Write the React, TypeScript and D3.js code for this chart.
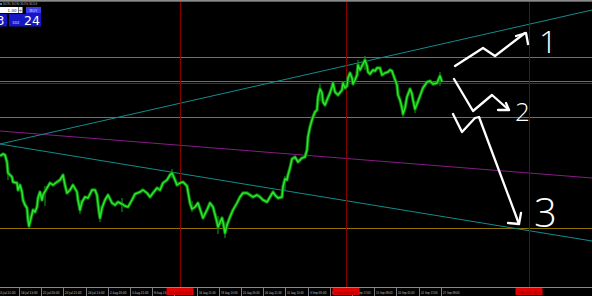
import React from "react";
import * as d3 from "d3";

const W = 592;
const H = 296;

// ---- price series (bar index, close) ----
const closeBars = [0,3,5,7,8,12,13,17,18,20,22,23,25,27,28,29,31,33,35,37,38,40,42,43,47,50,53,57,60,63,65,67,70,73,77,78,80,82,85,88,92,95,97,99,100,102,105,108,112,115,118,122,125,128,132,135,140,143,147,150,153,157,160,163,167,170,172,175,177,180,183,187,190,192,195,198,202,203,207,210,213,217,218,222,223,225,227,230,233,237,240,243,247,250,253,257,260,263,267,270,273,275,278,282,283,285,287,288,290,292,295,298,302,305,307,308,310,312,313,315,317,318,320,322,323,325,327,330,332,333,335,338,342,343,345,347,348,350,352,353,355,357,358,360,362,363,365,367,368,370,373,375,377,380,382,385,388,390,392,393,397,398,400,402,403,405,407,410,412,413,415,417,420,423,427,430,433,437,440,442];
const closePrices = [301.50,301.52,301.51,301.44,301.33,301.29,301.24,301.23,301.16,301.21,301.14,301.06,301.01,300.98,300.86,300.80,300.88,300.96,300.94,300.99,301.08,301.14,301.06,301.11,301.18,301.23,301.21,301.24,301.26,301.31,301.21,301.13,301.16,301.21,301.14,301.06,300.96,301.04,301.09,301.08,301.16,301.16,301.11,300.94,300.88,300.98,301.06,301.11,301.03,301.01,301.04,301.02,301.00,300.99,301.06,301.12,301.14,301.16,301.13,301.09,301.13,301.18,301.16,301.23,301.26,301.31,301.33,301.26,301.21,301.23,301.24,301.20,301.03,300.97,300.99,301.03,300.91,300.88,300.96,301.03,300.99,300.84,300.79,300.88,300.84,300.73,300.81,300.89,300.96,301.03,301.09,301.13,301.13,301.11,301.09,301.11,301.09,301.06,301.04,301.09,301.14,301.11,301.08,301.09,301.19,301.27,301.26,301.31,301.38,301.47,301.49,301.44,301.48,301.49,301.56,301.69,301.79,301.86,301.89,301.94,301.96,302.09,302.17,302.13,302.04,302.01,302.06,302.13,302.19,302.23,302.14,302.11,302.16,302.23,302.18,302.20,302.28,302.33,302.28,302.22,302.26,302.31,302.41,302.36,302.40,302.42,302.46,302.40,302.34,302.32,302.36,302.35,302.38,302.38,302.31,302.33,302.34,302.36,302.35,302.32,302.21,302.11,302.06,301.98,301.92,301.98,302.09,302.17,302.12,302.06,301.97,302.02,302.10,302.18,302.24,302.25,302.22,302.23,302.30,302.24];

// a few visible wicks (bar, high, low)
const wickBars = [8, 29, 45, 80, 100, 122, 172, 192, 218, 225, 285, 320, 358, 365, 403, 415, 440];
const wickHighs = [301.40, 300.90, 301.20, 301.06, 301.00, 301.08, 301.37, 301.05, 300.90, 300.84, 301.30, 302.22, 302.46, 302.50, 302.00, 302.05, 302.34];
const wickLows = [301.26, 300.78, 301.00, 300.92, 300.84, 300.94, 301.28, 300.94, 300.72, 300.68, 301.16, 302.05, 302.30, 302.36, 301.88, 301.93, 302.20];

// horizontal levels, bid
const levelPrices = [302.49, 302.25, 301.89, 300.78];
const bidPrice = 302.24;

// trend lines: [startBar, startPrice, endBar, endPrice]
const trendTealUp = [0, 301.62, 592, 302.96];
const trendTealDown = [0, 301.62, 592, 300.65];
const trendPurple = [0, 301.75, 592, 301.28];

// vertical period separators
const sessionBars = [180, 346, 529];
const sessionLabels = ["12 Aug 2021 00:00", "9 Sep 2021 08:00", "5 Oct 2021 16:00"];

// time axis (the label hidden under the first red marker is omitted)
const tickLabels = ["15 Jul 21:00","18 Jul 13:00","21 Jul 05:00","23 Jul 21:00","28 Jul 13:00","2 Aug 05:00","4 Aug 21:00","9 Aug 13:00","","16 Aug 21:00","19 Aug 13:00","24 Aug 05:00","26 Aug 21:00","31 Aug 13:00","3 Sep 05:00","8 Sep 01:00","10 Sep 17:00","15 Sep 09:00","20 Sep 01:00","22 Sep 17:00","27 Sep 09:00"];
const tickStartBar = -3.2;
const tickStepBars = 22.2;

// hand-drawn scenario arrows: polyline points and arrowhead arms (bar, price)
const arrow1 = [[455, 302.40], [483, 302.58], [495, 302.50], [525, 302.73]];
const arrow1Head = [[516, 302.70], [526, 302.73], [528, 302.62]];
const arrow2 = [[454, 302.27], [473, 301.95], [492, 302.11], [509, 301.96]];
const arrow2Head = [[498, 301.96], [509, 301.96], [506, 302.03]];
const arrow3 = [[453, 301.92], [462, 301.74], [475, 301.88], [479, 301.89], [519, 300.82]];
const arrow3Head = [[508, 300.83], [519, 300.82], [521, 300.93]];
const scenarioLabels = ["1", "2", "3"];
const scenarioBars = [539, 515, 534];
const scenarioPrices = [302.53, 301.85, 300.79];

export default function App() {
  const plotBottom = 287;
  const x = d3.scaleLinear().domain([0, 592]).range([0, W]);
  const y = d3.scaleLinear().domain([300.19, 303.06]).range([plotBottom, 0]);

  const series: [number, number][] = closeBars.map((b, i) => [b, closePrices[i]]);
  const line = d3.line<number[]>().x(d => x(d[0])).y(d => y(d[1]));
  const pricePath = line(series) || "";

  const trend = (t: number[], color: string, key: string) => (
    <line key={key} x1={x(t[0])} y1={y(t[1])} x2={x(t[2])} y2={y(t[3])} stroke={color} strokeWidth={1} />
  );

  const gold = "#8f7300";
  const axisFont = "DejaVu Sans, sans-serif";

  return (
    <>
      <style>{"body{margin:0;background:#000;overflow:hidden}"}</style>
      <svg width={W} height={H} style={{ display: "block", background: "#000" }}>
        <rect x={0} y={0} width={W} height={H} fill="#000" />

        {/* bid line, then horizontal levels */}
        <line x1={0} x2={W} y1={Math.round(y(bidPrice)) + 1.5} y2={Math.round(y(bidPrice)) + 1.5} stroke="#32344a" strokeWidth={1} />
        {levelPrices.map((p, i) => (
          <line key={"lv" + i} x1={0} x2={W} y1={Math.round(y(p)) + 0.5} y2={Math.round(y(p)) + 0.5} stroke={gold} strokeWidth={1} />
        ))}

        {/* trend lines */}
        {trend(trendPurple, "#861c86", "tp")}
        {trend(trendTealUp, "#138c8c", "tu")}
        {trend(trendTealDown, "#138c8c", "td")}

        {/* period separators */}
        {sessionBars.map((b, i) => (
          <line key={"sep" + i} x1={Math.round(x(b)) + 0.5} x2={Math.round(x(b)) + 0.5} y1={2} y2={plotBottom} stroke="#860000" strokeWidth={1} />
        ))}

        {/* price */}
        {wickBars.map((b, i) => (
          <line key={"wk" + i} x1={x(b)} x2={x(b)} y1={y(wickHighs[i])} y2={y(wickLows[i])} stroke="#0b8f0b" strokeWidth={1.2} />
        ))}
        <path d={pricePath} fill="none" stroke="#0a7d0a" strokeWidth={3.4} strokeLinejoin="round" />
        <path d={pricePath} fill="none" stroke="#2ee62e" strokeWidth={1.5} strokeLinejoin="round" />

        {/* hand-drawn scenarios */}
        {[arrow1, arrow1Head, arrow2, arrow2Head, arrow3, arrow3Head].map((pts, i) => (
          <path key={"ar" + i} d={line(pts) || ""} fill="none" stroke="#fff" strokeWidth={2.3} strokeLinecap="round" strokeLinejoin="round" />
        ))}
        {scenarioLabels.map((s, i) => (
          <text key={"sl" + i} x={x(scenarioBars[i])} y={y(scenarioPrices[i])} fill="#fff"
            fontFamily="Open Sans, DejaVu Sans, sans-serif" fontWeight={300}
            fontSize={[32, 26, 40][i]}>{s}</text>
        ))}

        {/* top bar */}
        <rect x={0} y={0} width={W} height={1.7} fill="#8a8a8a" />
        <text x={0} y={4.6} fill="#bdbdbd" fontSize={3.6} fontFamily={axisFont} textLength={37} lengthAdjust="spacingAndGlyphs">◆ 30235 30230 30235 30218</text>

        {/* one-click trading panel */}
        <rect x={0} y={7} width={18} height={6} fill="#fff" />
        <text x={16.5} y={11.6} fill="#222" fontSize={4} fontFamily={axisFont} textAnchor="end">1.00</text>
        <rect x={18.5} y={7} width={4} height={6} fill="#e8e8e8" />
        <text x={20.5} y={11.6} fill="#333" fontSize={4} fontFamily={axisFont} textAnchor="middle">÷</text>
        <rect x={26} y={7} width={15} height={6.5} fill="#3d3df0" />
        <text x={33.5} y={11.8} fill="#c8c8ff" fontSize={4} fontFamily={axisFont} textAnchor="middle">BUY</text>
        <rect x={0} y={14} width={7} height={12.5} fill="#1616c4" />
        <rect x={9} y={14} width={32} height={12.5} fill="#1616c4" />
        <text x={4.5} y={24.5} fill="#fff" fontSize={12} fontFamily={axisFont} textAnchor="end">3</text>
        <text x={12} y={23.5} fill="#d8d8ff" fontSize={4} fontFamily={axisFont}>302</text>
        <text x={24} y={24.8} fill="#fff" fontSize={12.5} fontFamily={axisFont}>24</text>

        {/* time axis */}
        <line x1={0} x2={W} y1={plotBottom + 0.5} y2={plotBottom + 0.5} stroke="#8a8a8a" strokeWidth={1} />
        {tickLabels.map((lab, i) => {
          const tx = Math.round(x(tickStartBar + i * tickStepBars)) + 0.5;
          return (
            <g key={"tk" + i}>
              <line x1={tx} x2={tx} y1={plotBottom + 1} y2={H} stroke="#9a9a9a" strokeWidth={0.8} />
              {lab ? (
                <text x={tx + 1.5} y={293.5} fill="#c8c8c8" fontSize={3.8} fontFamily={axisFont} textLength={16.5} lengthAdjust="spacingAndGlyphs">{lab}</text>
              ) : null}
            </g>
          );
        })}
        {sessionBars.map((b, i) => {
          const cx = x(b);
          return (
            <g key={"sl" + i}>
              <rect x={cx - 13.5} y={plotBottom + 1} width={27} height={7} fill="#e00000" />
              <text x={cx} y={293.5} fill="#5a0000" fontSize={3.8} fontFamily={axisFont} textAnchor="middle" textLength={23} lengthAdjust="spacingAndGlyphs">{sessionLabels[i]}</text>
            </g>
          );
        })}
      </svg>
    </>
  );
}
